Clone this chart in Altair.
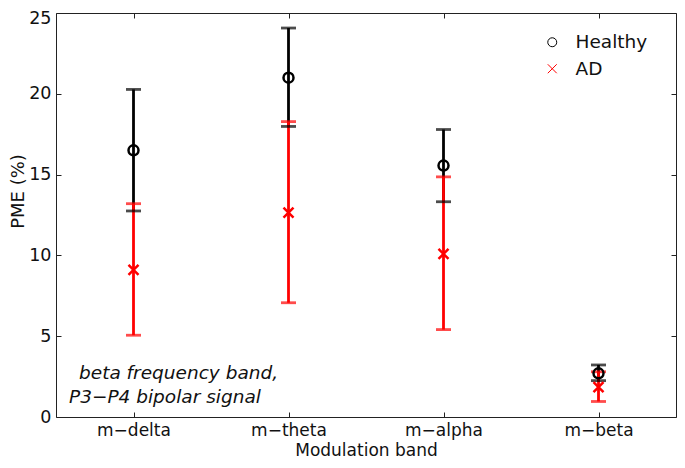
import json
import altair as alt
import pandas as pd

bands = ["m−delta", "m−theta", "m−alpha", "m−beta"]
groups = ["Healthy", "AD"]
healthy_mean = [16.5, 21.0, 15.56, 2.7]
healthy_lo = [12.75, 17.98, 13.32, 2.25]
healthy_hi = [20.27, 24.07, 17.79, 3.22]
ad_mean = [9.1, 12.65, 10.09, 1.85]
ad_lo = [5.06, 7.07, 5.41, 0.96]
ad_hi = [13.2, 18.28, 14.86, 2.8]
y_ticks = [0, 5, 10, 15, 20, 25]
x_ticks = [1, 2, 3, 4]
note_lines = ["beta frequency band,", "P3−P4 bipolar signal"]

rows = []
for g, m, lo, hi in [("Healthy", healthy_mean, healthy_lo, healthy_hi),
                     ("AD", ad_mean, ad_lo, ad_hi)]:
    for i, b in enumerate(bands):
        rows.append({"idx": i + 1, "band": b, "group": g,
                     "mean": m[i], "lo": lo[i], "hi": hi[i]})
df = pd.DataFrame(rows)

W, H = 620, 404
FONT = "DejaVu Sans"
AX = "#222222"

xscale = alt.Scale(domain=[0.5, 4.5], nice=False, zero=False)
yscale = alt.Scale(domain=[0, 25], nice=False, zero=False)
cscale = alt.Scale(domain=groups, range=["#000000", "#ff0000"])
sscale = alt.Scale(domain=groups, range=["circle", "M-1,-1L1,1M-1,1L1,-1"])
label_expr = json.dumps(bands) + "[datum.value - 1]"

tick_axis_common = dict(labels=False, domain=False, ticks=True, tickSize=5,
                        tickColor=AX, tickWidth=1, title=None, grid=False)

rules = alt.Chart(df).mark_rule(strokeWidth=2.8).encode(
    x=alt.X("idx:Q", scale=xscale,
            axis=alt.Axis(orient="bottom", values=x_ticks, labelExpr=label_expr,
                          ticks=False, tickSize=0, domain=False, grid=False,
                          labelPadding=5.5, labelFontSize=17, labelColor="#111",
                          title="Modulation band", titleFontSize=17,
                          titleFontWeight="normal", titleColor="#111",
                          titleY=33.9, titleBaseline="middle")),
    y=alt.Y("lo:Q", scale=yscale,
            axis=alt.Axis(orient="left", values=y_ticks, ticks=False, tickSize=0,
                          domain=False, grid=False, labelPadding=5,
                          labelFontSize=17.5, labelColor="#111",
                          labelOffset=alt.condition("datum.value == 25",
                                                    alt.value(5), alt.value(0)),
                          title="PME (%)", titleFontSize=18,
                          titleFontWeight="normal", titleColor="#111",
                          titleAngle=270, titleX=-38, titleY=178,
                          titleAlign="center", titleBaseline="middle")),
    y2="hi:Q",
    color=alt.Color("group:N", scale=cscale, legend=None),
)

caps = alt.Chart(df).transform_fold(["lo", "hi"], as_=["end", "val"]).mark_tick(
    orient="horizontal", size=15, thickness=2.8
).encode(
    x=alt.X("idx:Q", scale=xscale,
            axis=alt.Axis(orient="top", offset=-H, values=x_ticks, **tick_axis_common)),
    y=alt.Y("val:Q", scale=yscale,
            axis=alt.Axis(orient="right", offset=-W, values=y_ticks, **tick_axis_common)),
    color=alt.Color("group:N", scale=cscale, legend=None),
)

legend = alt.Legend(orient="none", legendX=487, legendY=20, title=None,
                    labelFont=FONT, labelFontSize=18.5, labelColor="#111",
                    symbolStrokeWidth=1, symbolSize=80, rowPadding=7.5,
                    labelOffset=14, padding=0)

points = alt.Chart(df).mark_point(filled=False, size=100, strokeWidth=2.5, opacity=1).encode(
    x=alt.X("idx:Q", scale=xscale,
            axis=alt.Axis(orient="bottom", offset=-H, values=x_ticks, **tick_axis_common)),
    y=alt.Y("mean:Q", scale=yscale,
            axis=alt.Axis(orient="left", offset=-W, values=y_ticks, **tick_axis_common)),
    color=alt.Color("group:N", scale=cscale, legend=legend),
    shape=alt.Shape("group:N", scale=sscale, legend=legend),
)

note_style = dict(align="left", baseline="alphabetic", font=FONT,
                  fontStyle="italic", fontSize=18.5, color="#111")
note1 = alt.Chart(alt.Data(values=[{"t": note_lines[0]}])).mark_text(**note_style).encode(
    x=alt.value(23), y=alt.value(366), text="t:N")
note2 = alt.Chart(alt.Data(values=[{"t": note_lines[1]}])).mark_text(**note_style).encode(
    x=alt.value(13), y=alt.value(390), text="t:N")

chart = alt.layer(rules, caps, points, note1, note2).resolve_axis(
    x="independent", y="independent"
).resolve_legend(
    color="independent", shape="independent"
).properties(
    width=W, height=H,
    autosize=alt.AutoSizeParams(type="none"),
    padding={"left": 48, "top": 5, "right": 1, "bottom": 43},
    background="white",
).configure_view(
    stroke=AX, strokeWidth=1
).configure_axis(
    labelFont=FONT, titleFont=FONT
).configure_legend(
    labelFont=FONT
)

chart.save("out.html", embed_options={"renderer": "svg", "actions": False})
